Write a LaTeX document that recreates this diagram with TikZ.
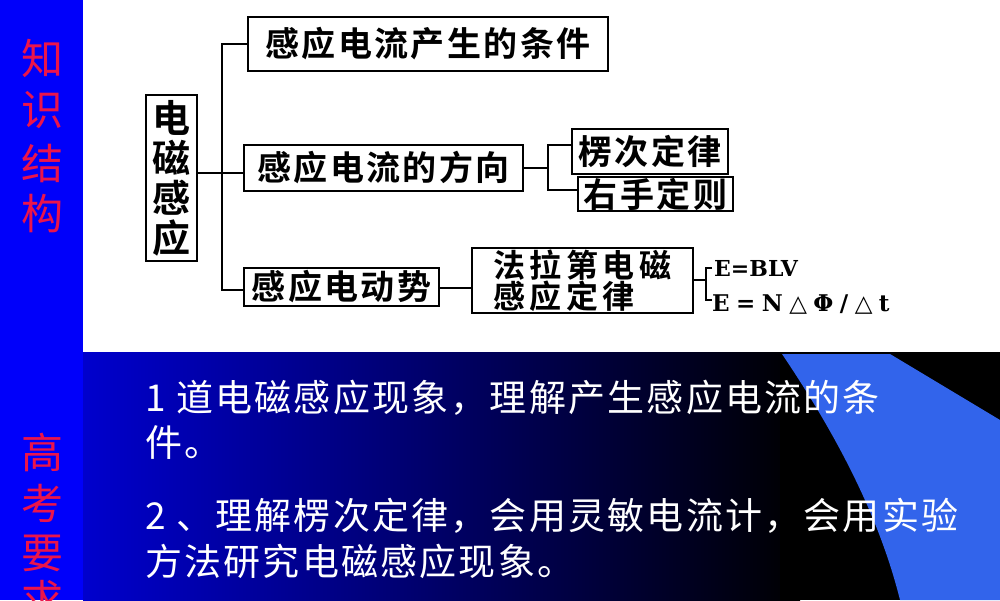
\documentclass[tikz,border=0pt]{standalone}
\usepackage{fontspec}
\newfontfamily\cjk{Noto Sans CJK SC}[LetterSpace=6]
\newfontfamily\cjkb{Noto Sans CJK SC Bold}[LetterSpace=7]
\newfontfamily\cjkc{Noto Sans CJK SC Bold}[LetterSpace=14]
\newfontfamily\cjkr{Noto Sans CJK SC}
\newfontfamily\dv{DejaVu Serif}
\newfontfamily\dvs{DejaVu Serif}[LetterSpace=28]
\usetikzlibrary{calc}
\definecolor{lblue}{RGB}{0,0,250}
\definecolor{dblue}{RGB}{0,0,205}
\definecolor{sky}{RGB}{50,100,235}
\definecolor{redt}{RGB}{235,20,75}
\begin{document}
\begin{tikzpicture}[x=1pt,y=-1pt,
  bx/.style={draw,line width=1.4pt,inner sep=0pt,font=\cjkb\fontsize{34}{36}\selectfont},
  ln/.style={line width=1.4pt},
  wt/.style={text=white,anchor=west,font=\cjk\fontsize{37}{40}\selectfont,inner sep=0pt},
  rt/.style={text=redt,font=\cjkr\fontsize{42}{48}\selectfont,inner sep=0pt}]
\useasboundingbox (0,0) rectangle (1000,600);
\fill[lblue] (0,0) rectangle (1000,600);
\shade[left color=dblue,right color=black] (83,352) rectangle (800,600);
\fill[black] (780,352) rectangle (1000,600);
\fill[sky] (782,354) .. controls (840,440) and (880,520) .. (900,600) -- (1000,600) -- (1000,420) -- (890,354) -- cycle;
\fill[white] (83,0) rectangle (1000,352);
% left labels
\node[rt] (k1) at (42,58) {知};
\node[rt] (k2) at (42,110) {识};
\node[rt] (k3) at (42,163) {结};
\node[rt] (k4) at (42,214) {构};
\node[rt] (g1) at (42,452) {高};
\node[rt] (g2) at (42,503) {考};
\node[rt] (g3) at (42,553) {要};
\node[rt] (g4) at (42,600) {求};
% boxes
\node[bx,minimum width=51,minimum height=166,align=center,font=\cjkb\fontsize{38}{40}\selectfont] (m) at (171.5,178) {电\\磁\\感\\应};
\node[bx,minimum width=360,minimum height=54] (b1) at (428,44) {感应电流产生的条件};
\node[bx,minimum width=279,minimum height=46] (b2) at (383.5,168) {感应电流的方向};
\node[bx,minimum width=195,minimum height=38] (b3) at (341.5,287) {感应电动势};
\node[bx,minimum width=156,minimum height=45] (b4) at (650,151.5) {楞次定律};
\node[bx,minimum width=155,minimum height=34] (b5) at (655.5,194) {右手定则};
\node[bx,minimum width=221,minimum height=65,align=left,font=\cjkc\fontsize{32}{30}\selectfont] (b6) at (582.5,280.5) {法拉第电磁\\感应定律};
\node[anchor=west,inner sep=0pt,font=\dv\bfseries\fontsize{22}{24}\selectfont] (e1) at (714,268) {E=BLV};
\node[anchor=west,inner sep=0pt,font=\dvs\bfseries\fontsize{23}{24}\selectfont] (e2) at (712,305) {E=N△Φ/△t};
% connectors
\coordinate (t0) at (222,173);
\draw[ln] (m.east |- t0) -- (t0);
\draw[ln] (b1.west) -| (222,290) -- (b3.west |- 0,290);
\draw[ln] (t0) -- (b2.west |- t0);
\draw[ln] (b2.east) -- (548,168);
\draw[ln] (b4.west |- 0,145) -| (548,190) -- (b5.west |- 0,190);
\draw[ln] (b3.east |- 0,288) -- (b6.west |- 0,288);
\draw[ln] (b6.east |- 0,280) -- (706,280);
\draw[ln] (712,268) -| (706,300) -- (e2.west |- 0,300);
% bottom text
\node[wt] (l1) at (145,398) {1 道电磁感应现象，理解产生感应电流的条};
\node[wt] (l2) at (145,443) {件。};
\node[wt] (l3) at (145,516) {2 、理解楞次定律，会用灵敏电流计，会用实验};
\node[wt] (l4) at (145,561) {方法研究电磁感应现象。};
\end{tikzpicture}
\end{document}
